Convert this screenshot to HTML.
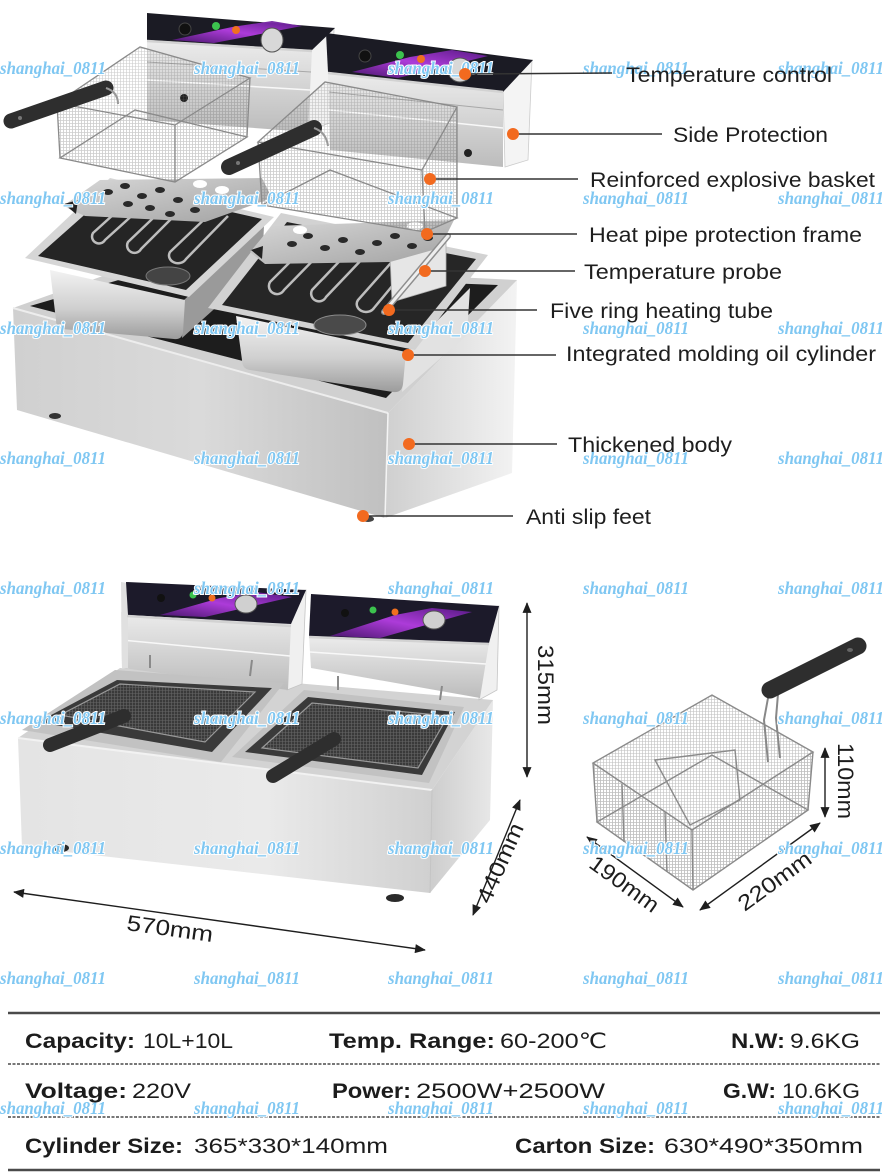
<!DOCTYPE html>
<html><head><meta charset="utf-8">
<style>
html,body{margin:0;padding:0;background:#fff;}
svg{display:block;}
.lbl{font-family:"Liberation Sans",sans-serif;font-size:21px;fill:#1e1e1e;}
.wm{font-family:"Liberation Serif",serif;font-weight:bold;font-style:italic;font-size:18px;fill:#7fc7f2;stroke:#ffffff;stroke-width:2;paint-order:stroke;}
.tb{font-family:"Liberation Sans","DejaVu Sans",sans-serif;font-size:21px;fill:#1c1c1c;}
.tbb{font-family:"Liberation Sans","DejaVu Sans",sans-serif;font-size:21px;fill:#1c1c1c;font-weight:bold;}
.dim{font-family:"Liberation Sans",sans-serif;font-size:22px;fill:#1c1c1c;}
</style></head><body>
<svg width="882" height="1174" viewBox="0 0 882 1174" xmlns="http://www.w3.org/2000/svg">
<defs>
<linearGradient id="tFront" x1="0" y1="0" x2="1" y2="0"><stop offset="0" stop-color="#d0d0d0"/><stop offset=".5" stop-color="#dadada"/><stop offset="1" stop-color="#c0c0c0"/></linearGradient>
<linearGradient id="tSide" x1="0" y1="0" x2="1" y2="0"><stop offset="0" stop-color="#cfcfcf"/><stop offset="1" stop-color="#f3f3f3"/></linearGradient>
<linearGradient id="wall" x1="0" y1="0" x2="0" y2="1"><stop offset="0" stop-color="#f2f2f2"/><stop offset=".55" stop-color="#d0d0d0"/><stop offset="1" stop-color="#9c9c9c"/></linearGradient>
<linearGradient id="steel" x1="0" y1="0" x2="0" y2="1"><stop offset="0" stop-color="#ececec"/><stop offset="1" stop-color="#bcbcbc"/></linearGradient>
<linearGradient id="plate" x1="0" y1="0" x2="1" y2="1"><stop offset="0" stop-color="#d8d8d8"/><stop offset="1" stop-color="#a2a2a2"/></linearGradient>
<linearGradient id="purp" x1="0" y1="1" x2="1" y2="0"><stop offset="0" stop-color="#4b1670"/><stop offset=".5" stop-color="#b43de2"/><stop offset="1" stop-color="#5a1a88"/></linearGradient>
<linearGradient id="mFront" x1="0" y1="0" x2="1" y2="0"><stop offset="0" stop-color="#e4e4e4"/><stop offset=".6" stop-color="#eaeaea"/><stop offset="1" stop-color="#d0d0d0"/></linearGradient>
<linearGradient id="mSide" x1="0" y1="0" x2="1" y2="0"><stop offset="0" stop-color="#cdcdcd"/><stop offset="1" stop-color="#e8e8e8"/></linearGradient>
<pattern id="mesh" width="3" height="3" patternUnits="userSpaceOnUse"><path d="M0 .5H3M.5 0V3" stroke="#707070" stroke-width=".6"/></pattern>
<marker id="ah" viewBox="0 0 12 10" refX="11" refY="5" markerWidth="12" markerHeight="9" markerUnits="userSpaceOnUse" orient="auto-start-reverse"><path d="M0,0 L12,5 L0,10 z" fill="#1e1e1e"/></marker>
</defs>
<rect width="882" height="1174" fill="#fff"/>

<!-- ============ TOP EXPLODED VIEW ============ -->
<polygon points="388,413 517,280 512,473 385,518" fill="url(#tSide)"/>
<polygon points="13,308 388,413 385,518 17,410" fill="url(#tFront)"/>
<polygon points="13,308 142,262 517,280 388,413" fill="#d0d0d0"/>
<polygon points="30,306 146,272 498,285 386,398" fill="#1d1d1d"/>
<line x1="13" y1="308" x2="388" y2="413" stroke="#ededed" stroke-width="2"/>
<line x1="388" y1="413" x2="385" y2="518" stroke="#f4f4f4" stroke-width="1.5"/>
<ellipse cx="55" cy="416" rx="6" ry="3" fill="#333"/>
<ellipse cx="368" cy="519" rx="6" ry="3" fill="#444"/>

<!-- left pan -->
<polygon points="184,300 264,226 262,266 182,338" fill="#9a9a9a"/>
<path d="M50,270 L185,300 L183,332 Q182,340 174,339 L62,329 Q56,328 56,320 Z" fill="url(#wall)"/>
<polygon points="25,258 189,297 274,217 110,178" fill="#d6d6d6"/>
<polygon points="38,256 186,290 262,219 117,186" fill="#252525"/>
<ellipse cx="168" cy="276" rx="22" ry="9" fill="#444" stroke="#777"/>
<g fill="none" stroke="#bdbdbd" stroke-width="2.5">
<path d="M135,195 L93,233 A6,6 0 0 0 105,240 L147,202"/>
<path d="M172,200 L128,242 A6,6 0 0 0 141,249 L184,206"/>
<path d="M214,210 L170,252 A7,6 0 0 0 186,259 L228,216"/>
</g>

<!-- right pan -->
<polygon points="405,353 470,288 467,335 402,392" fill="#e2e2e2"/>
<path d="M236,316 L406,352 L403,384 Q402,393 393,392 L250,370 Q242,369 242,360 Z" fill="url(#wall)"/>
<polygon points="208,308 415,350 488,255 281,213" fill="#d2d2d2"/>
<polygon points="222,305 408,343 476,259 287,222" fill="#262626"/>
<ellipse cx="340" cy="325" rx="26" ry="10" fill="#4a4a4a" stroke="#8a8a8a"/>
<g fill="none" stroke="#bdbdbd" stroke-width="2.5">
<path d="M312,240 L270,282 A6,6 0 0 0 284,290 L326,247"/>
<path d="M352,248 L312,290 A6,6 0 0 0 326,297 L366,255"/>
<path d="M398,255 L358,300 A7,6 0 0 0 374,308 L412,262"/>
</g>

<!-- right frame + probe -->
<polygon points="390,255 446,238 446,286 392,302" fill="#e6e6e6" stroke="#b0b0b0" stroke-width=".8"/>
<polygon points="250,252 272,226 454,220 440,248 390,262 265,264" fill="url(#plate)"/>
<polygon points="251,250 263,246 262,259" fill="#222"/>
<g fill="#2a2a2a">
<ellipse cx="292" cy="244" rx="5" ry="3"/><ellipse cx="308" cy="236" rx="5" ry="3"/><ellipse cx="325" cy="248" rx="5" ry="3"/>
<ellipse cx="343" cy="240" rx="5" ry="3"/><ellipse cx="360" cy="252" rx="5" ry="3"/><ellipse cx="377" cy="243" rx="5" ry="3"/>
<ellipse cx="395" cy="236" rx="5" ry="3"/><ellipse cx="412" cy="246" rx="5" ry="3"/><ellipse cx="428" cy="238" rx="5" ry="3"/>
</g>
<ellipse cx="300" cy="230" rx="7" ry="4" fill="#fff"/><ellipse cx="415" cy="226" rx="8" ry="4" fill="#fff"/>
<line x1="448" y1="236" x2="384" y2="312" stroke="#8e8e8e" stroke-width="6" stroke-linecap="round"/>
<line x1="448" y1="236" x2="384" y2="312" stroke="#eeeeee" stroke-width="3" stroke-linecap="round"/>

<!-- left frame -->
<polygon points="63,206 100,180 262,178 272,198 205,222 85,216" fill="url(#plate)"/>
<polygon points="64,204 78,200 76,214" fill="#222"/>
<g fill="#2a2a2a">
<ellipse cx="108" cy="192" rx="5" ry="3"/><ellipse cx="125" cy="186" rx="5" ry="3"/><ellipse cx="142" cy="196" rx="5" ry="3"/>
<ellipse cx="160" cy="190" rx="5" ry="3"/><ellipse cx="178" cy="200" rx="5" ry="3"/><ellipse cx="150" cy="208" rx="5" ry="3"/>
<ellipse cx="128" cy="204" rx="5" ry="3"/><ellipse cx="195" cy="210" rx="5" ry="3"/><ellipse cx="170" cy="214" rx="5" ry="3"/>
</g>
<ellipse cx="200" cy="184" rx="7" ry="4" fill="#fff"/><ellipse cx="222" cy="190" rx="7" ry="4" fill="#fff"/>

<!-- left housing -->
<polygon points="308,50 334,28 332,122 306,132" fill="#f2f2f2" stroke="#c8c8c8" stroke-width=".8"/>
<polygon points="147,40 312,50 308,132 147,120" fill="url(#steel)"/>
<line x1="147" y1="62" x2="311" y2="72" stroke="#a8a8a8" stroke-width="1"/>
<line x1="147" y1="80" x2="310" y2="90" stroke="#f8f8f8" stroke-width="1.5"/>
<polygon points="147,13 335,28 312,50 147,40" fill="#1b1b24"/>
<polygon points="172,40 214,43 302,26 272,21 232,27" fill="url(#purp)" opacity=".95"/>
<line x1="147" y1="41" x2="312" y2="51" stroke="#d2d2d2" stroke-width="2.5"/>
<circle cx="185" cy="29" r="6" fill="#111" stroke="#444"/>
<circle cx="216" cy="26" r="4" fill="#3cc24e"/>
<circle cx="236" cy="30" r="4" fill="#f07020"/>
<ellipse cx="272" cy="40" rx="11" ry="12" fill="#d8d8d8" stroke="#555"/>
<circle cx="184" cy="98" r="4" fill="#222"/>

<!-- right housing -->
<polygon points="503,90 532,60 528,160 505,167" fill="#f4f4f4" stroke="#cccccc" stroke-width=".8"/>
<polygon points="328,72 503,90 503,167 330,150" fill="url(#steel)"/>
<line x1="329" y1="92" x2="503" y2="110" stroke="#a8a8a8" stroke-width="1"/>
<line x1="329" y1="110" x2="503" y2="128" stroke="#f8f8f8" stroke-width="1.5"/>
<polygon points="326,33 533,60 503,92 328,72" fill="#1b1b24"/>
<polygon points="352,72 398,78 488,56 452,50 410,57" fill="url(#purp)" opacity=".95"/>
<line x1="328" y1="73" x2="503" y2="92" stroke="#d2d2d2" stroke-width="2.5"/>
<circle cx="365" cy="56" r="6" fill="#111" stroke="#444"/>
<circle cx="400" cy="55" r="4" fill="#3cc24e"/>
<circle cx="421" cy="59" r="4" fill="#f07020"/>
<ellipse cx="460" cy="70" rx="12" ry="12" fill="#d8d8d8" stroke="#555"/>
<circle cx="468" cy="153" r="4" fill="#222"/>

<!-- left basket -->
<g fill="url(#mesh)" opacity=".35">
<polygon points="140,47 250,78 247,137 135,110"/>
<polygon points="57,103 140,47 135,110 60,158"/>
<polygon points="60,158 175,182 247,137 135,110"/>
<polygon points="57,103 175,125 175,182 60,158"/>
<polygon points="175,125 250,78 247,137 175,182"/>
</g>
<g fill="none" stroke="#8a8a8a" stroke-width="1.3">
<polygon points="57,103 175,125 250,78 140,47"/>
<polygon points="60,158 175,182 247,137 135,110"/>
<line x1="57" y1="103" x2="60" y2="158"/><line x1="175" y1="125" x2="175" y2="182"/><line x1="250" y1="78" x2="247" y2="137"/>
</g>

<!-- right basket -->
<g fill="url(#mesh)" opacity=".35">
<polygon points="325,82 457,107 457,218 330,170"/>
<polygon points="258,142 325,82 330,170 262,205"/>
<polygon points="262,205 425,232 457,218 330,170"/>
<polygon points="258,142 422,170 425,232 262,205"/>
<polygon points="422,170 457,107 457,218 425,232"/>
</g>
<g fill="none" stroke="#8a8a8a" stroke-width="1.3">
<polygon points="258,142 422,170 457,107 325,82"/>
<polygon points="262,205 425,232 457,218 330,170"/>
<line x1="258" y1="142" x2="262" y2="205"/><line x1="422" y1="170" x2="425" y2="232"/><line x1="457" y1="107" x2="457" y2="218"/>
</g>

<!-- handles -->
<line x1="11" y1="121" x2="106" y2="88" stroke="#2e2e2e" stroke-width="15" stroke-linecap="round"/>
<circle cx="20" cy="118" r="2" fill="#777"/>
<path d="M106,88 Q118,92 118,104" fill="none" stroke="#999" stroke-width="2"/>
<line x1="229" y1="167" x2="314" y2="128" stroke="#2e2e2e" stroke-width="16" stroke-linecap="round"/>
<circle cx="238" cy="163" r="2" fill="#777"/>
<path d="M314,128 Q326,132 328,146" fill="none" stroke="#999" stroke-width="2"/>

<!-- ============ MIDDLE ASSEMBLED FRYER ============ -->
<polygon points="432,790 493,700 490,820 430,893" fill="url(#mSide)"/>
<polygon points="18,738 432,790 430,893 22,847" fill="url(#mFront)"/>
<polygon points="18,738 120,668 493,700 432,790" fill="#d3d3d3"/>
<line x1="18" y1="738" x2="432" y2="790" stroke="#f2f2f2" stroke-width="2"/>
<line x1="432" y1="790" x2="430" y2="893" stroke="#c4c4c4" stroke-width="1"/>
<ellipse cx="61" cy="848" rx="8" ry="4" fill="#2a2a2a"/>
<ellipse cx="395" cy="898" rx="9" ry="4" fill="#2a2a2a"/>

<!-- left housing (mid) -->
<polygon points="288,592 306,590 302,684 287,690" fill="#f0f0f0" stroke="#c4c4c4" stroke-width=".8"/>
<polygon points="121,612 291,624 288,690 122,668" fill="url(#steel)"/>
<line x1="122" y1="640" x2="290" y2="656" stroke="#f8f8f8" stroke-width="1.5"/>
<polygon points="121,582 128,583 128,668 122,668" fill="#e0e0e0"/>
<polygon points="126,582 306,590 291,624 128,615" fill="#1c1a2a"/>
<polygon points="160,615 205,617 292,597 256,592 220,598" fill="url(#purp)" opacity=".95"/>
<line x1="127" y1="616" x2="291" y2="626" stroke="#d2d2d2" stroke-width="2.5"/>
<circle cx="161" cy="598" r="4" fill="#111"/>
<circle cx="193" cy="595" r="3.5" fill="#3cc24e"/>
<circle cx="212" cy="598" r="3.5" fill="#f07020"/>
<ellipse cx="246" cy="604" rx="11" ry="9" fill="#d0d0d0" stroke="#555"/>

<!-- right housing (mid) -->
<polygon points="479,610 499,606 497,690 479,700" fill="#f0f0f0" stroke="#c4c4c4" stroke-width=".8"/>
<polygon points="309,636 489,643 480,698 311,668" fill="url(#steel)"/>
<line x1="310" y1="652" x2="486" y2="664" stroke="#f8f8f8" stroke-width="1.5"/>
<polygon points="311,594 499,606 489,643 309,636" fill="#1c1a2a"/>
<polygon points="330,636 380,638 472,612 432,608 395,615" fill="url(#purp)" opacity=".95"/>
<line x1="309" y1="637" x2="489" y2="644" stroke="#d2d2d2" stroke-width="2.5"/>
<circle cx="345" cy="613" r="4" fill="#111"/>
<circle cx="373" cy="610" r="3.5" fill="#3cc24e"/>
<circle cx="395" cy="612" r="3.5" fill="#f07020"/>
<ellipse cx="434" cy="620" rx="11" ry="9" fill="#d0d0d0" stroke="#555"/>

<!-- wells -->
<polygon points="22,730 115,670 284,683 221,762" fill="#c2c2c2"/>
<polygon points="38,722 117,680 272,688 212,752" fill="#3a3a3a"/>
<polygon points="60,715 120,684 255,692 205,742" fill="url(#mesh)" opacity=".8"/>
<polygon points="60,715 120,684 255,692 205,742" fill="none" stroke="#999" stroke-width="1.2"/>
<polygon points="232,757 304,690 464,707 429,783" fill="#c2c2c2"/>
<polygon points="245,752 308,697 455,712 422,775" fill="#3a3a3a"/>
<polygon points="262,748 312,703 448,716 418,768" fill="url(#mesh)" opacity=".8"/>
<polygon points="262,748 312,703 448,716 418,768" fill="none" stroke="#999" stroke-width="1.2"/>
<g stroke="#8a8a8a" stroke-width="2" fill="none">
<path d="M150,668 L150,655 M250,676 L252,660 M338,690 L338,676 M440,700 L442,686"/>
</g>
<line x1="50" y1="745" x2="124" y2="716" stroke="#2e2e2e" stroke-width="14" stroke-linecap="round"/>
<line x1="273" y1="776" x2="334" y2="739" stroke="#2e2e2e" stroke-width="14" stroke-linecap="round"/>

<!-- dimension arrows (mid) -->
<g stroke="#1e1e1e" stroke-width="1.4" fill="none" marker-start="url(#ah)" marker-end="url(#ah)">
<line x1="527" y1="603" x2="527" y2="777"/>
<line x1="520" y1="800" x2="473" y2="915"/>
<line x1="14" y1="892" x2="425" y2="950"/>
</g>

<!-- basket (right) -->
<g fill="url(#mesh)" opacity=".45">
<polygon points="593,763 712,695 712,755 597,822"/>
<polygon points="712,695 813,752 808,810 712,755"/>
<polygon points="597,822 693,890 808,810 712,755"/>
<polygon points="593,763 692,830 693,890 597,822"/>
<polygon points="692,830 813,752 808,810 693,890"/>
</g>
<g fill="none" stroke="#8a8a8a" stroke-width="1.4">
<polygon points="593,763 692,830 813,752 712,695"/>
<polygon points="597,822 693,890 808,810 712,755"/>
<line x1="593" y1="763" x2="597" y2="822"/><line x1="692" y1="830" x2="693" y2="890"/><line x1="813" y1="752" x2="808" y2="810"/>
<line x1="622" y1="784" x2="624" y2="842"/><line x1="665" y1="812" x2="667" y2="872"/>
<polygon points="655,760 735,750 740,800 690,825"/>
</g>
<g stroke="#888" stroke-width="2" fill="none">
<path d="M768,698 L764,720 L768,762"/><path d="M778,694 L776,718 L780,758"/>
</g>
<line x1="770" y1="690" x2="858" y2="646" stroke="#2e2e2e" stroke-width="17" stroke-linecap="round"/>
<ellipse cx="850" cy="650" rx="3" ry="2" fill="#666"/>
<g stroke="#1e1e1e" stroke-width="1.4" fill="none" marker-start="url(#ah)" marker-end="url(#ah)">
<line x1="825" y1="748" x2="825" y2="817"/>
<line x1="587" y1="837" x2="683" y2="907"/>
<line x1="700" y1="910" x2="820" y2="823"/>
</g>

<!-- ============ TABLE LINES ============ -->
<line x1="8" y1="1013" x2="880" y2="1013" stroke="#4a4a4a" stroke-width="2.5"/>
<line x1="8" y1="1064" x2="880" y2="1064" stroke="#777" stroke-width="2" stroke-dasharray="3 1.5"/>
<line x1="8" y1="1117" x2="880" y2="1117" stroke="#777" stroke-width="2" stroke-dasharray="3 1.5"/>
<line x1="8" y1="1170" x2="880" y2="1170" stroke="#4a4a4a" stroke-width="2.5"/>

<!-- ============ WATERMARKS ============ -->
<g>
<text class="wm" x="0" y="74" textLength="106" lengthAdjust="spacingAndGlyphs">shanghai_0811</text>
<text class="wm" x="194" y="74" textLength="106" lengthAdjust="spacingAndGlyphs">shanghai_0811</text>
<text class="wm" x="388" y="74" textLength="106" lengthAdjust="spacingAndGlyphs">shanghai_0811</text>
<text class="wm" x="583" y="74" textLength="106" lengthAdjust="spacingAndGlyphs">shanghai_0811</text>
<text class="wm" x="778" y="74" textLength="106" lengthAdjust="spacingAndGlyphs">shanghai_0811</text>

<text class="wm" x="0" y="204" textLength="106" lengthAdjust="spacingAndGlyphs">shanghai_0811</text>
<text class="wm" x="194" y="204" textLength="106" lengthAdjust="spacingAndGlyphs">shanghai_0811</text>
<text class="wm" x="388" y="204" textLength="106" lengthAdjust="spacingAndGlyphs">shanghai_0811</text>
<text class="wm" x="583" y="204" textLength="106" lengthAdjust="spacingAndGlyphs">shanghai_0811</text>
<text class="wm" x="778" y="204" textLength="106" lengthAdjust="spacingAndGlyphs">shanghai_0811</text>

<text class="wm" x="0" y="334" textLength="106" lengthAdjust="spacingAndGlyphs">shanghai_0811</text>
<text class="wm" x="194" y="334" textLength="106" lengthAdjust="spacingAndGlyphs">shanghai_0811</text>
<text class="wm" x="388" y="334" textLength="106" lengthAdjust="spacingAndGlyphs">shanghai_0811</text>
<text class="wm" x="583" y="334" textLength="106" lengthAdjust="spacingAndGlyphs">shanghai_0811</text>
<text class="wm" x="778" y="334" textLength="106" lengthAdjust="spacingAndGlyphs">shanghai_0811</text>

<text class="wm" x="0" y="464" textLength="106" lengthAdjust="spacingAndGlyphs">shanghai_0811</text>
<text class="wm" x="194" y="464" textLength="106" lengthAdjust="spacingAndGlyphs">shanghai_0811</text>
<text class="wm" x="388" y="464" textLength="106" lengthAdjust="spacingAndGlyphs">shanghai_0811</text>
<text class="wm" x="583" y="464" textLength="106" lengthAdjust="spacingAndGlyphs">shanghai_0811</text>
<text class="wm" x="778" y="464" textLength="106" lengthAdjust="spacingAndGlyphs">shanghai_0811</text>

<text class="wm" x="0" y="594" textLength="106" lengthAdjust="spacingAndGlyphs">shanghai_0811</text>
<text class="wm" x="194" y="594" textLength="106" lengthAdjust="spacingAndGlyphs">shanghai_0811</text>
<text class="wm" x="388" y="594" textLength="106" lengthAdjust="spacingAndGlyphs">shanghai_0811</text>
<text class="wm" x="583" y="594" textLength="106" lengthAdjust="spacingAndGlyphs">shanghai_0811</text>
<text class="wm" x="778" y="594" textLength="106" lengthAdjust="spacingAndGlyphs">shanghai_0811</text>

<text class="wm" x="0" y="724" textLength="106" lengthAdjust="spacingAndGlyphs">shanghai_0811</text>
<text class="wm" x="194" y="724" textLength="106" lengthAdjust="spacingAndGlyphs">shanghai_0811</text>
<text class="wm" x="388" y="724" textLength="106" lengthAdjust="spacingAndGlyphs">shanghai_0811</text>
<text class="wm" x="583" y="724" textLength="106" lengthAdjust="spacingAndGlyphs">shanghai_0811</text>
<text class="wm" x="778" y="724" textLength="106" lengthAdjust="spacingAndGlyphs">shanghai_0811</text>

<text class="wm" x="0" y="854" textLength="106" lengthAdjust="spacingAndGlyphs">shanghai_0811</text>
<text class="wm" x="194" y="854" textLength="106" lengthAdjust="spacingAndGlyphs">shanghai_0811</text>
<text class="wm" x="388" y="854" textLength="106" lengthAdjust="spacingAndGlyphs">shanghai_0811</text>
<text class="wm" x="583" y="854" textLength="106" lengthAdjust="spacingAndGlyphs">shanghai_0811</text>
<text class="wm" x="778" y="854" textLength="106" lengthAdjust="spacingAndGlyphs">shanghai_0811</text>

<text class="wm" x="0" y="984" textLength="106" lengthAdjust="spacingAndGlyphs">shanghai_0811</text>
<text class="wm" x="194" y="984" textLength="106" lengthAdjust="spacingAndGlyphs">shanghai_0811</text>
<text class="wm" x="388" y="984" textLength="106" lengthAdjust="spacingAndGlyphs">shanghai_0811</text>
<text class="wm" x="583" y="984" textLength="106" lengthAdjust="spacingAndGlyphs">shanghai_0811</text>
<text class="wm" x="778" y="984" textLength="106" lengthAdjust="spacingAndGlyphs">shanghai_0811</text>

<text class="wm" x="0" y="1114" textLength="106" lengthAdjust="spacingAndGlyphs">shanghai_0811</text>
<text class="wm" x="194" y="1114" textLength="106" lengthAdjust="spacingAndGlyphs">shanghai_0811</text>
<text class="wm" x="388" y="1114" textLength="106" lengthAdjust="spacingAndGlyphs">shanghai_0811</text>
<text class="wm" x="583" y="1114" textLength="106" lengthAdjust="spacingAndGlyphs">shanghai_0811</text>
<text class="wm" x="778" y="1114" textLength="106" lengthAdjust="spacingAndGlyphs">shanghai_0811</text>
</g>

<!-- ============ LABELS (top) ============ -->
<g stroke="#333" stroke-width="1.5">
<line x1="465" y1="74" x2="612" y2="73"/>
<line x1="513" y1="134" x2="662" y2="134"/>
<line x1="430" y1="179" x2="578" y2="179"/>
<line x1="427" y1="234" x2="577" y2="234"/>
<line x1="425" y1="271" x2="575" y2="271"/>
<line x1="389" y1="310" x2="537" y2="310"/>
<line x1="408" y1="355" x2="556" y2="355"/>
<line x1="409" y1="444" x2="557" y2="444"/>
<line x1="363" y1="516" x2="513" y2="516"/>
</g>
<g fill="#f26a1f">
<circle cx="465" cy="74" r="6"/><circle cx="513" cy="134" r="6"/><circle cx="430" cy="179" r="6"/>
<circle cx="427" cy="234" r="6"/><circle cx="425" cy="271" r="6"/><circle cx="389" cy="310" r="6"/>
<circle cx="408" cy="355" r="6"/><circle cx="409" cy="444" r="6"/><circle cx="363" cy="516" r="6"/>
</g>
<text class="lbl" x="626" y="82" textLength="206" lengthAdjust="spacingAndGlyphs">Temperature control</text>
<text class="lbl" x="673" y="142" textLength="155" lengthAdjust="spacingAndGlyphs">Side Protection</text>
<text class="lbl" x="590" y="187" textLength="285" lengthAdjust="spacingAndGlyphs">Reinforced explosive basket</text>
<text class="lbl" x="589" y="242" textLength="273" lengthAdjust="spacingAndGlyphs">Heat pipe protection frame</text>
<text class="lbl" x="584" y="279" textLength="198" lengthAdjust="spacingAndGlyphs">Temperature probe</text>
<text class="lbl" x="550" y="318" textLength="223" lengthAdjust="spacingAndGlyphs">Five ring heating tube</text>
<text class="lbl" x="566" y="361" textLength="310" lengthAdjust="spacingAndGlyphs">Integrated molding oil cylinder</text>
<text class="lbl" x="568" y="452" textLength="164" lengthAdjust="spacingAndGlyphs">Thickened body</text>
<text class="lbl" x="526" y="524" textLength="125" lengthAdjust="spacingAndGlyphs">Anti slip feet</text>

<!-- dimension texts -->
<text class="dim" x="0" y="0" text-anchor="middle" textLength="80" lengthAdjust="spacingAndGlyphs" transform="translate(538,685) rotate(90)">315mm</text>
<text class="dim" x="0" y="0" text-anchor="middle" textLength="85" lengthAdjust="spacingAndGlyphs" transform="translate(507,866) rotate(-66)">440mm</text>
<text class="dim" x="0" y="0" text-anchor="middle" textLength="87" lengthAdjust="spacingAndGlyphs" transform="translate(169,936) rotate(8)">570mm</text>
<text class="dim" x="0" y="0" text-anchor="middle" textLength="76" lengthAdjust="spacingAndGlyphs" transform="translate(838,781) rotate(90)">110mm</text>
<text class="dim" x="0" y="0" text-anchor="middle" textLength="80" lengthAdjust="spacingAndGlyphs" transform="translate(620,890) rotate(36)">190mm</text>
<text class="dim" x="0" y="0" text-anchor="middle" textLength="85" lengthAdjust="spacingAndGlyphs" transform="translate(779,887) rotate(-36)">220mm</text>

<!-- ============ SPEC TABLE TEXT ============ -->
<text class="tbb" x="25" y="1048" textLength="110" lengthAdjust="spacingAndGlyphs">Capacity:</text>
<text class="tb" x="143" y="1048" textLength="90" lengthAdjust="spacingAndGlyphs">10L+10L</text>
<text class="tbb" x="329" y="1048" textLength="166" lengthAdjust="spacingAndGlyphs">Temp. Range:</text>
<text class="tb" x="500" y="1048" textLength="107" lengthAdjust="spacingAndGlyphs">60-200℃</text>
<text class="tbb" x="731" y="1048" textLength="54" lengthAdjust="spacingAndGlyphs">N.W:</text>
<text class="tb" x="790" y="1048" textLength="70" lengthAdjust="spacingAndGlyphs">9.6KG</text>

<text class="tbb" x="25" y="1098" textLength="102" lengthAdjust="spacingAndGlyphs">Voltage:</text>
<text class="tb" x="132" y="1098" textLength="59" lengthAdjust="spacingAndGlyphs">220V</text>
<text class="tbb" x="332" y="1098" textLength="79" lengthAdjust="spacingAndGlyphs">Power:</text>
<text class="tb" x="416" y="1098" textLength="189" lengthAdjust="spacingAndGlyphs">2500W+2500W</text>
<text class="tbb" x="723" y="1098" textLength="53" lengthAdjust="spacingAndGlyphs">G.W:</text>
<text class="tb" x="782" y="1098" textLength="78" lengthAdjust="spacingAndGlyphs">10.6KG</text>

<text class="tbb" x="25" y="1153" textLength="158" lengthAdjust="spacingAndGlyphs">Cylinder Size:</text>
<text class="tb" x="194" y="1153" textLength="194" lengthAdjust="spacingAndGlyphs">365*330*140mm</text>
<text class="tbb" x="515" y="1153" textLength="140" lengthAdjust="spacingAndGlyphs">Carton Size:</text>
<text class="tb" x="664" y="1153" textLength="199" lengthAdjust="spacingAndGlyphs">630*490*350mm</text>
</svg>
</body></html>
